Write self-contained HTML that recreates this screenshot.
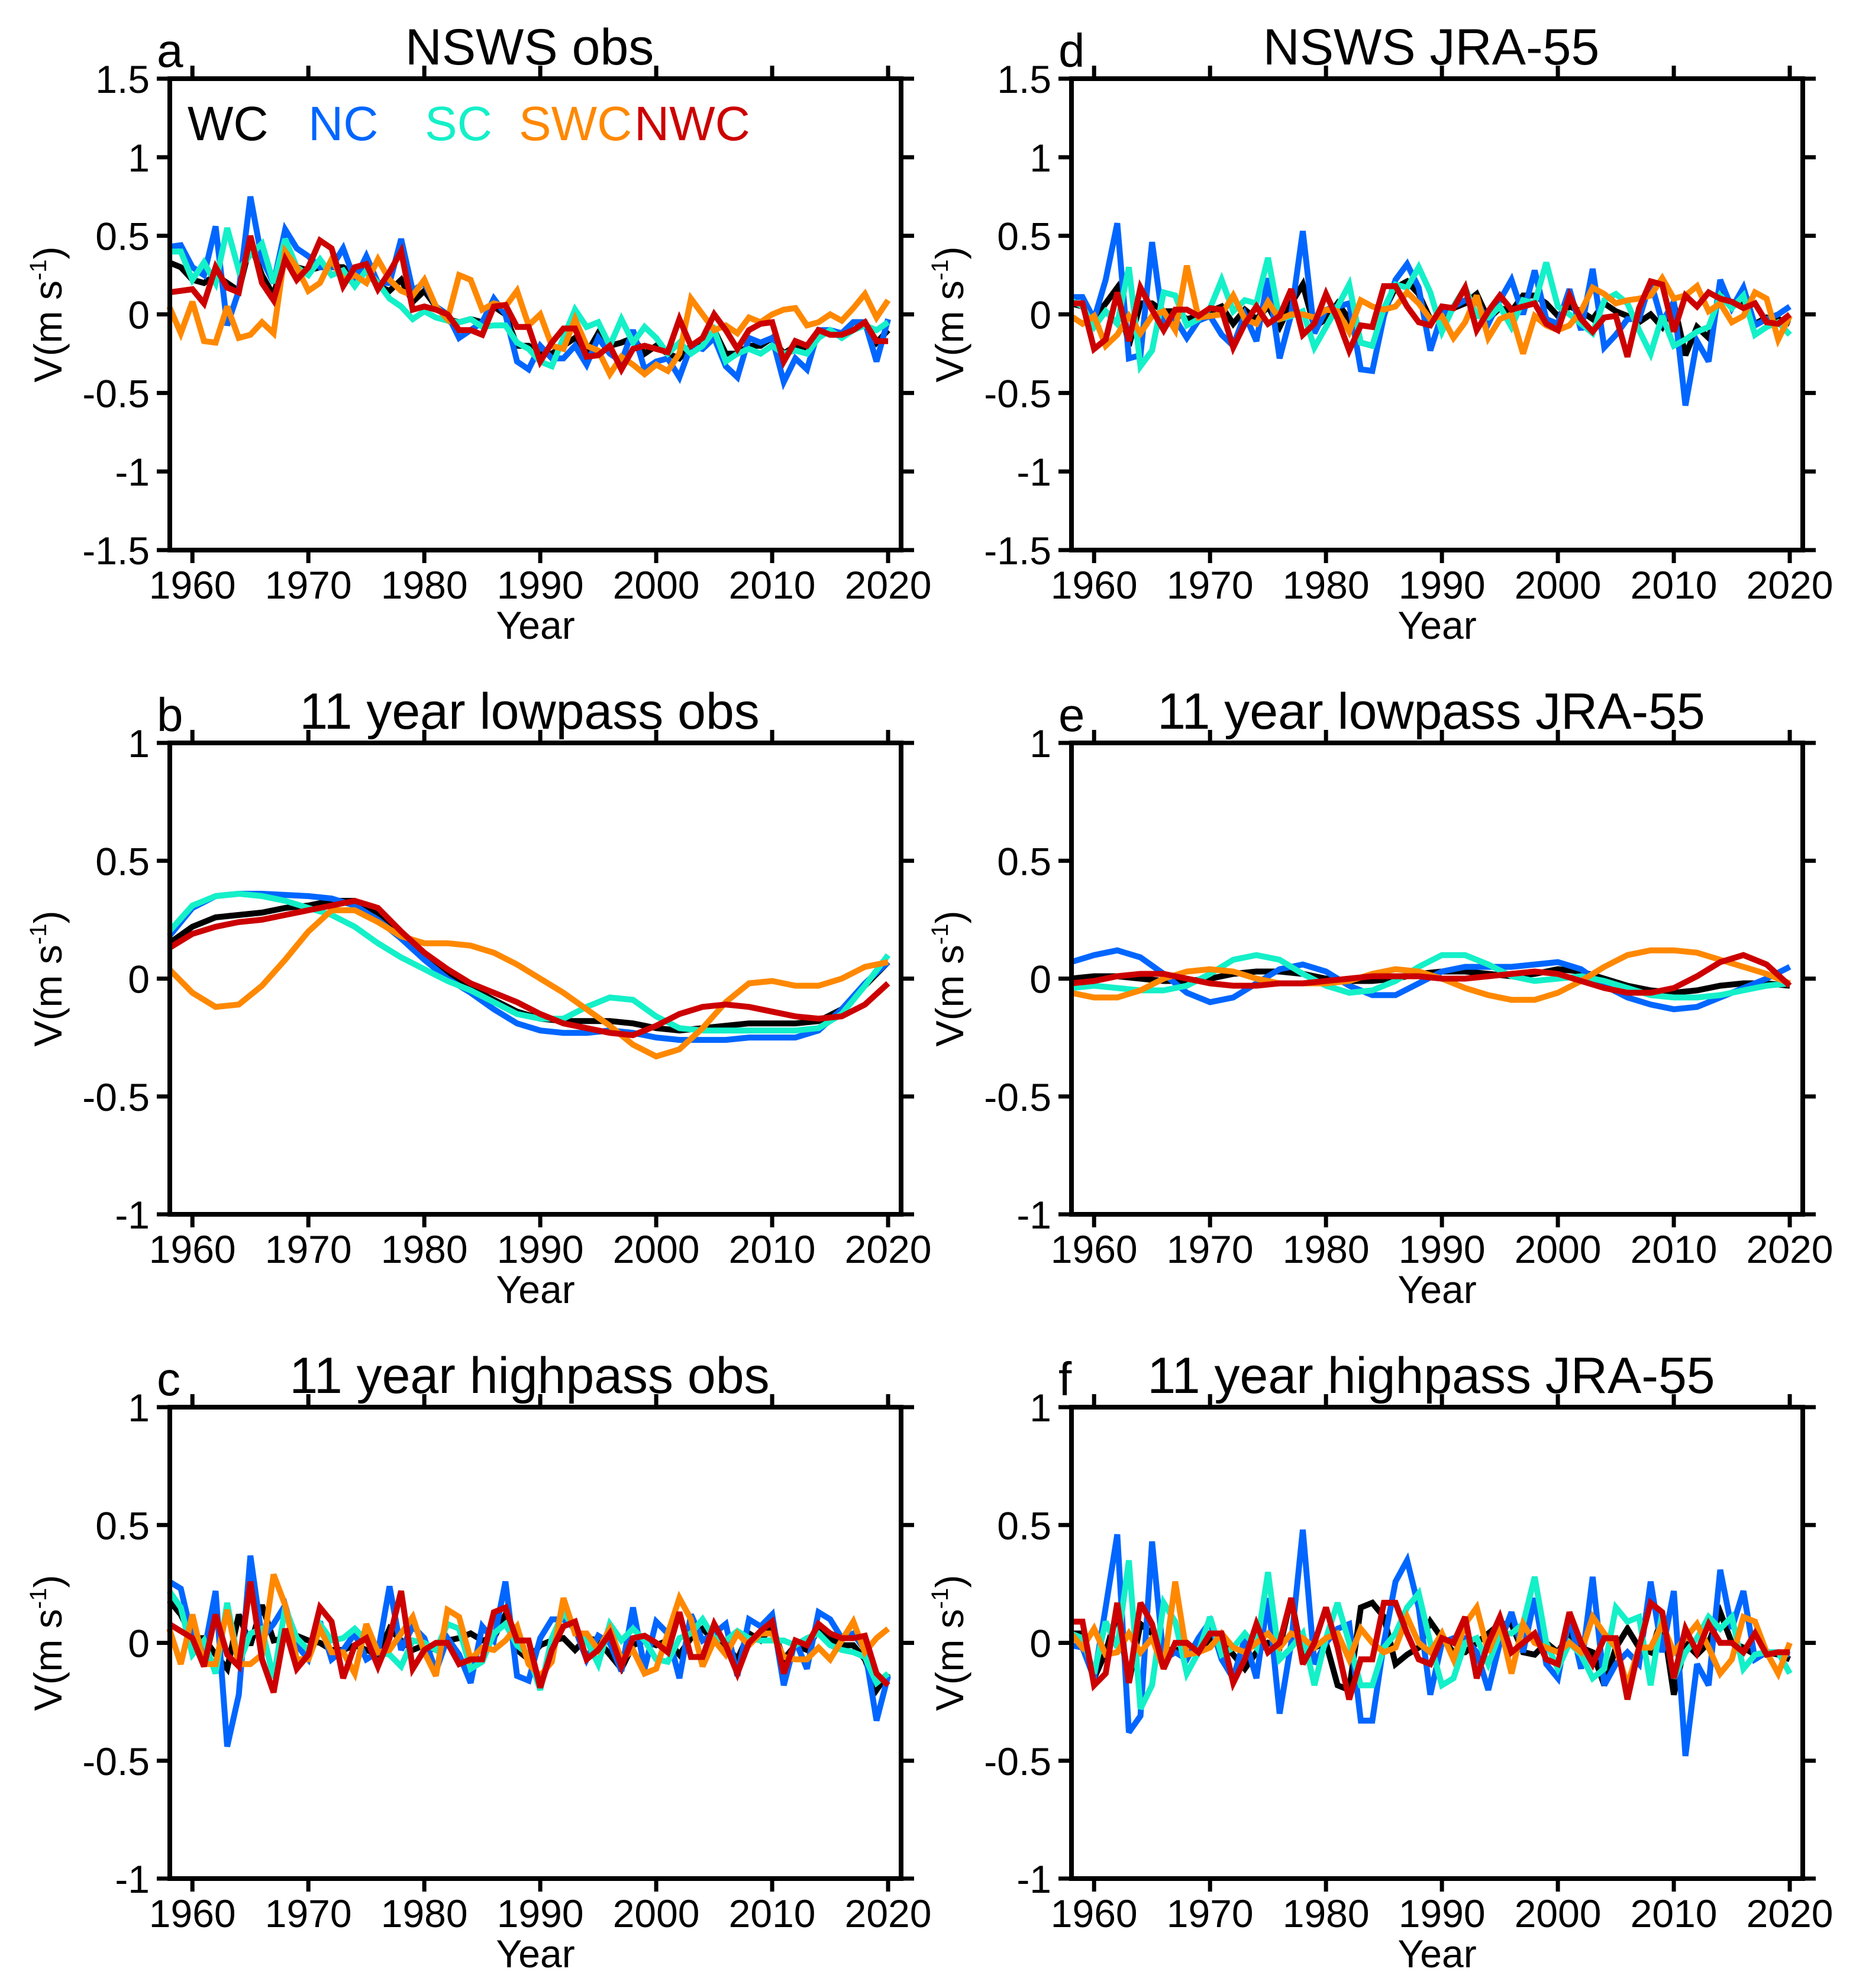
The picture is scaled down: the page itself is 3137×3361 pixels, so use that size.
<!DOCTYPE html>
<html><head><meta charset="utf-8"><title>NSWS wind speed anomaly time series</title>
<style>html,body{margin:0;padding:0;background:#fff}svg{display:block}text{font-family:"Liberation Sans",Arial,sans-serif;fill:#000}</style>
</head><body>
<svg id="chart" width="3137" height="3361" viewBox="0 0 3137 3361" xmlns="http://www.w3.org/2000/svg"></svg>
<script>
const years = [];
for (let y = 1958; y <= 2020; y++) years.push(y);
const yearsLow = [];
for (let y = 1958; y <= 2020; y += 2) yearsLow.push(y);

// Panel a: NSWS obs
const aWC = [0.33,0.3,0.22,0.2,0.25,0.2,0.15,0.45,0.25,0.12,0.4,0.3,0.28,0.3,0.3,0.3,0.25,0.28,0.18,0.15,0.22,0.08,0.15,0.05,-0.03,-0.05,-0.03,-0.05,0.05,0.0,-0.2,-0.2,-0.25,-0.25,-0.2,-0.15,-0.25,-0.12,-0.2,-0.18,-0.15,-0.25,-0.2,-0.25,-0.28,-0.2,-0.2,-0.1,-0.25,-0.25,-0.2,-0.2,-0.15,-0.25,-0.2,-0.22,-0.1,-0.12,-0.12,-0.05,-0.05,-0.18,-0.1];
const aNC = [0.43,0.44,0.3,0.25,0.56,-0.07,0.15,0.75,0.35,0.2,0.54,0.42,0.37,0.3,0.3,0.42,0.22,0.37,0.2,0.2,0.48,0.15,0.2,0.05,0.0,-0.15,-0.1,-0.05,0.1,0.0,-0.3,-0.35,-0.2,-0.28,-0.28,-0.2,-0.32,-0.15,-0.25,-0.3,-0.1,-0.35,-0.3,-0.28,-0.4,-0.2,-0.22,-0.15,-0.33,-0.4,-0.15,-0.18,-0.15,-0.43,-0.28,-0.35,-0.1,-0.1,-0.12,-0.05,-0.05,-0.3,-0.03];
const aSC = [0.4,0.4,0.22,0.33,0.2,0.55,0.28,0.38,0.45,0.2,0.48,0.3,0.25,0.35,0.25,0.28,0.18,0.28,0.2,0.1,0.05,-0.03,0.02,-0.02,-0.04,-0.05,-0.03,-0.08,-0.07,-0.07,-0.18,-0.22,-0.3,-0.33,-0.15,0.03,-0.08,-0.05,-0.2,-0.03,-0.18,-0.08,-0.15,-0.25,-0.18,-0.25,-0.2,-0.1,-0.3,-0.25,-0.22,-0.25,-0.2,-0.25,-0.23,-0.25,-0.15,-0.1,-0.15,-0.1,-0.07,-0.1,-0.05];
const aSWC = [0.05,-0.12,0.08,-0.17,-0.18,0.05,-0.15,-0.13,-0.05,-0.12,0.4,0.3,0.15,0.2,0.35,0.22,0.25,0.2,0.35,0.22,0.15,0.12,0.22,0.05,-0.03,0.25,0.22,0.03,0.07,0.05,0.15,-0.07,0.0,-0.2,-0.22,-0.03,-0.2,-0.23,-0.38,-0.27,-0.32,-0.38,-0.32,-0.36,-0.25,0.1,0.0,-0.1,-0.07,-0.12,-0.02,-0.05,0.0,0.03,0.04,-0.07,-0.05,0.0,-0.04,0.04,0.13,-0.02,0.09];
const aNWC = [0.14,0.15,0.16,0.07,0.3,0.17,0.14,0.5,0.2,0.09,0.35,0.22,0.3,0.47,0.42,0.18,0.3,0.32,0.16,0.27,0.4,0.03,0.05,0.03,0.0,-0.1,-0.1,-0.13,0.05,0.06,-0.08,-0.08,-0.3,-0.18,-0.09,-0.09,-0.27,-0.26,-0.2,-0.35,-0.22,-0.2,-0.22,-0.24,-0.03,-0.2,-0.15,0.0,-0.1,-0.22,-0.1,-0.06,-0.05,-0.3,-0.17,-0.2,-0.1,-0.13,-0.13,-0.1,-0.05,-0.17,-0.17];

// Panel d: NSWS JRA-55
const dWC = [0.07,0.05,-0.03,0.07,0.17,-0.2,0.07,0.07,0.02,0.02,-0.03,-0.01,0.02,0.05,-0.06,0.03,-0.03,0.05,-0.08,0.07,0.19,-0.08,-0.03,0.07,-0.03,-0.18,-0.2,0.02,0.17,0.21,0.13,-0.03,-0.03,0.04,0.07,0.13,-0.03,0.04,0.02,0.12,0.12,0.07,-0.01,0.05,0.02,-0.03,0.07,0.02,-0.01,-0.05,0.0,-0.08,0.07,-0.26,-0.08,-0.15,0.14,0.07,0.07,-0.06,-0.02,-0.03,-0.06];
const dNC = [0.11,0.11,-0.03,0.22,0.58,-0.28,-0.26,0.46,-0.08,-0.03,-0.15,-0.04,-0.01,-0.13,-0.2,0.0,-0.17,0.23,-0.28,0.0,0.53,-0.12,0.03,0.05,0.07,-0.35,-0.36,-0.01,0.22,0.32,0.17,-0.23,0.0,0.05,0.09,0.09,-0.06,0.09,0.22,0.0,0.28,-0.03,-0.06,0.16,-0.1,0.29,-0.21,-0.13,-0.03,-0.03,0.21,-0.05,0.08,-0.58,-0.17,-0.3,0.22,0.04,0.17,-0.07,-0.03,0.0,0.05];
const dSC = [0.09,0.05,-0.08,0.02,-0.06,0.3,-0.33,-0.23,0.14,0.12,-0.07,-0.03,0.04,0.22,0.02,0.09,0.07,0.36,-0.03,-0.01,0.02,-0.21,-0.08,0.05,0.19,-0.18,-0.2,0.04,0.19,0.17,0.3,0.14,-0.11,0.05,0.17,-0.01,-0.02,0.05,-0.08,0.09,0.07,0.33,0.05,0.0,-0.06,-0.12,0.09,0.13,0.07,-0.1,-0.25,-0.01,-0.2,-0.16,-0.11,-0.08,0.12,0.04,0.12,-0.13,-0.08,-0.05,-0.13];
const dSWC = [-0.01,-0.06,-0.01,-0.2,-0.13,-0.01,-0.12,-0.01,0.02,-0.1,0.31,-0.02,-0.01,0.0,0.12,-0.03,-0.06,0.08,-0.03,0.0,0.0,-0.02,0.03,0.02,-0.11,0.09,0.05,0.03,0.05,0.14,0.07,-0.03,-0.01,-0.15,-0.05,0.12,-0.15,-0.03,0.0,-0.25,-0.01,-0.07,-0.1,-0.07,0.02,0.17,0.13,0.07,0.09,0.1,0.12,0.23,0.1,0.12,0.18,0.02,0.07,-0.05,-0.01,0.14,0.1,-0.16,-0.01];
const dNWC = [0.07,0.07,-0.22,-0.16,0.14,-0.17,0.17,0.03,-0.1,0.03,0.03,-0.01,0.04,0.03,-0.21,-0.06,0.05,-0.06,-0.01,0.16,-0.13,-0.06,0.13,-0.03,-0.23,-0.07,-0.08,0.18,0.18,0.05,-0.05,-0.07,0.05,0.04,0.17,-0.1,0.02,0.12,0.03,0.05,0.07,-0.06,-0.1,0.12,-0.03,-0.11,-0.02,-0.01,-0.27,0.04,0.21,0.19,-0.11,0.12,0.05,0.14,0.1,0.08,0.04,0.07,-0.05,-0.06,0.0];

// Panel b: 11 year lowpass obs (every 2 years)
const bWC = [0.15,0.22,0.26,0.27,0.28,0.3,0.31,0.33,0.33,0.28,0.18,0.09,0.02,-0.04,-0.09,-0.14,-0.17,-0.18,-0.18,-0.18,-0.19,-0.21,-0.22,-0.21,-0.2,-0.19,-0.19,-0.19,-0.18,-0.13,-0.03,0.07];
const bNC = [0.18,0.3,0.35,0.36,0.36,0.355,0.35,0.34,0.31,0.25,0.17,0.08,0.0,-0.06,-0.13,-0.19,-0.22,-0.23,-0.23,-0.22,-0.23,-0.25,-0.26,-0.26,-0.26,-0.25,-0.25,-0.25,-0.22,-0.13,-0.02,0.07];
const bSC = [0.2,0.31,0.35,0.36,0.35,0.33,0.3,0.27,0.22,0.15,0.09,0.04,-0.01,-0.05,-0.1,-0.15,-0.17,-0.17,-0.12,-0.08,-0.09,-0.16,-0.21,-0.22,-0.22,-0.22,-0.22,-0.22,-0.21,-0.15,-0.03,0.1];
const bSWC = [0.04,-0.06,-0.12,-0.11,-0.03,0.08,0.2,0.29,0.29,0.24,0.18,0.15,0.15,0.14,0.11,0.06,0.0,-0.06,-0.13,-0.2,-0.28,-0.33,-0.3,-0.21,-0.1,-0.02,-0.01,-0.03,-0.03,0.0,0.05,0.07];
const bNWC = [0.13,0.19,0.22,0.24,0.25,0.27,0.29,0.31,0.33,0.3,0.2,0.11,0.04,-0.02,-0.06,-0.1,-0.15,-0.19,-0.21,-0.23,-0.24,-0.2,-0.15,-0.12,-0.11,-0.12,-0.14,-0.16,-0.17,-0.16,-0.11,-0.02];

// Panel e: 11 year lowpass JRA-55 (every 2 years)
const eWC = [0.0,0.01,0.01,0.0,-0.01,-0.01,0.0,0.02,0.03,0.03,0.02,0.0,-0.01,-0.01,0.0,0.02,0.03,0.03,0.02,0.01,0.02,0.04,0.03,0.0,-0.03,-0.05,-0.06,-0.05,-0.03,-0.02,-0.02,-0.03];
const eNC = [0.07,0.1,0.12,0.09,0.02,-0.06,-0.1,-0.08,-0.02,0.04,0.06,0.03,-0.03,-0.07,-0.07,-0.02,0.03,0.05,0.05,0.05,0.06,0.07,0.04,-0.03,-0.08,-0.11,-0.13,-0.12,-0.08,-0.04,0.0,0.05];
const eSC = [-0.04,-0.03,-0.04,-0.05,-0.05,-0.03,0.02,0.08,0.1,0.08,0.02,-0.03,-0.06,-0.05,-0.01,0.05,0.1,0.1,0.06,0.01,-0.01,0.0,0.01,-0.01,-0.04,-0.07,-0.08,-0.08,-0.07,-0.05,-0.03,-0.02];
const eSWC = [-0.06,-0.08,-0.08,-0.05,0.0,0.03,0.04,0.03,0.0,-0.02,-0.02,-0.02,-0.01,0.02,0.04,0.03,0.0,-0.04,-0.07,-0.09,-0.09,-0.06,-0.01,0.05,0.1,0.12,0.12,0.11,0.08,0.05,0.02,-0.02];
const eNWC = [-0.02,-0.01,0.01,0.02,0.02,0.0,-0.02,-0.03,-0.03,-0.02,-0.02,-0.01,0.0,0.01,0.01,0.01,0.0,0.0,0.01,0.02,0.03,0.02,-0.01,-0.04,-0.06,-0.06,-0.04,0.01,0.07,0.1,0.06,-0.03];

// Panel c: 11 year highpass obs
const cWC = [0.18,0.12,0.02,0.02,-0.05,-0.11,0.12,-0.01,0.16,0.01,0.02,0.03,0.01,0.0,-0.03,-0.03,-0.01,-0.03,-0.05,0.06,0.01,-0.03,-0.01,-0.03,0.01,0.02,0.04,0.01,0.02,0.12,-0.03,-0.07,-0.01,0.01,0.02,-0.03,0.02,0.01,-0.05,-0.11,-0.01,0.01,-0.01,0.01,-0.05,0.02,0.06,0.01,-0.01,-0.07,0.04,0.01,0.07,-0.07,-0.01,-0.03,0.06,0.02,-0.01,-0.01,-0.07,-0.2,-0.13];
const cNC = [0.26,0.23,0.02,-0.04,0.22,-0.44,-0.22,0.37,0.02,0.08,0.16,-0.01,-0.07,0.09,-0.07,-0.03,0.04,-0.07,-0.04,0.24,-0.03,0.07,0.02,-0.12,0.02,-0.05,-0.17,0.07,0.01,0.26,-0.14,-0.16,0.02,0.1,0.1,0.06,-0.07,0.03,0.0,-0.12,0.15,-0.11,0.09,0.04,-0.15,0.12,0.01,0.04,0.08,-0.14,0.1,0.07,0.12,-0.18,0.01,-0.11,0.13,0.1,0.02,0.04,-0.03,-0.33,-0.14];
const cSC = [0.22,0.15,-0.05,0.01,-0.13,0.17,-0.09,0.04,0.06,-0.15,0.15,0.02,-0.03,0.08,0.01,0.02,0.06,0.01,-0.04,-0.05,-0.1,0.01,0.0,-0.03,0.08,0.06,-0.11,-0.08,0.04,0.08,-0.01,-0.05,-0.2,0.02,0.13,0.06,0.01,-0.09,0.08,0.01,0.06,0.01,-0.07,-0.08,0.02,0.04,0.1,0.02,0.01,0.05,0.02,0.01,0.01,0.01,-0.01,0.02,0.04,-0.01,-0.03,-0.04,-0.06,-0.17,-0.13];
const cSWC = [0.06,-0.09,0.12,-0.09,-0.09,0.14,-0.09,-0.09,-0.05,0.29,0.16,-0.07,-0.07,0.06,-0.04,-0.04,-0.13,0.08,-0.04,-0.03,0.04,0.11,-0.04,-0.14,0.14,0.11,-0.07,-0.02,-0.03,0.01,0.07,-0.09,-0.14,-0.08,0.19,0.04,0.04,-0.03,0.06,-0.07,-0.03,-0.13,-0.11,0.04,0.19,0.1,-0.1,0.01,-0.05,0.04,-0.01,0.04,0.04,-0.06,-0.07,-0.07,-0.02,-0.07,0.01,0.09,-0.04,0.02,0.06];
const cNWC = [0.08,0.05,0.02,-0.1,0.12,-0.05,-0.1,0.26,-0.07,-0.21,0.06,-0.11,-0.05,0.15,0.09,-0.15,-0.01,0.02,-0.1,0.02,0.22,-0.11,-0.03,0.0,0.0,-0.09,-0.07,-0.07,0.13,0.15,0.01,0.01,-0.19,-0.03,0.07,0.09,-0.07,-0.03,0.04,-0.1,0.02,0.03,0.0,-0.04,0.13,-0.06,-0.06,0.08,-0.01,-0.13,0.0,0.05,0.09,-0.13,0.01,-0.01,0.08,0.04,0.02,0.02,0.03,-0.13,-0.18];

// Panel f: 11 year highpass JRA-55
const fWC = [0.04,0.04,-0.15,-0.04,0.13,-0.17,0.08,0.04,-0.02,-0.04,0.0,-0.04,0.02,0.0,-0.05,-0.11,-0.04,0.0,-0.02,0.19,-0.07,-0.02,0.0,-0.18,-0.2,0.15,0.17,0.11,-0.09,-0.05,-0.02,0.09,0.02,-0.04,-0.04,0.0,0.04,0.08,0.08,-0.04,-0.05,0.0,-0.04,0.04,-0.02,-0.04,-0.18,-0.02,0.06,-0.02,-0.04,0.11,-0.22,0.0,-0.05,0.0,0.13,0.0,-0.02,-0.05,-0.04,-0.05,-0.07];
const fNC = [-0.01,-0.02,-0.15,0.15,0.46,-0.38,-0.31,0.43,-0.07,-0.04,-0.07,0.02,0.09,-0.07,-0.15,0.02,-0.15,0.19,-0.3,0.0,0.48,-0.09,0.0,0.06,0.08,-0.33,-0.33,0.0,0.26,0.35,0.15,-0.22,0.0,0.02,0.02,-0.04,-0.2,0.0,0.13,-0.04,0.19,-0.09,-0.15,0.11,-0.11,0.28,-0.18,-0.09,-0.04,-0.09,0.26,-0.04,0.22,-0.48,-0.09,-0.18,0.31,0.06,0.22,-0.07,-0.04,-0.04,-0.05];
const fSC = [0.04,0.02,-0.13,0.09,-0.02,0.35,-0.28,-0.18,0.17,0.09,-0.13,-0.04,0.11,-0.05,-0.02,0.04,-0.02,0.3,-0.07,-0.02,0.04,-0.18,0.02,0.17,0.0,-0.18,-0.18,-0.02,0.04,0.15,0.21,0.0,-0.18,-0.15,0.0,0.02,-0.09,0.04,0.04,0.08,0.28,0.0,-0.11,0.0,-0.05,-0.15,-0.11,0.15,0.09,0.11,-0.18,0.13,-0.15,-0.04,0.02,0.11,0.06,0.11,-0.11,-0.05,-0.04,-0.04,-0.13];
const fSWC = [0.04,-0.02,0.06,-0.05,-0.04,0.04,-0.04,0.02,-0.11,0.26,-0.05,-0.04,-0.02,0.04,-0.02,-0.04,0.0,0.04,-0.02,0.04,0.02,-0.02,0.02,0.04,-0.07,0.06,0.0,-0.04,-0.02,0.11,0.0,-0.04,0.04,-0.07,0.08,0.15,-0.04,0.08,-0.13,0.08,0.0,-0.02,-0.04,0.0,-0.04,0.11,0.04,-0.02,-0.18,-0.02,-0.02,0.08,-0.04,0.02,0.08,-0.02,-0.13,-0.07,0.11,0.09,-0.04,-0.13,0.0];
const fNWC = [0.09,0.09,-0.18,-0.13,0.17,-0.17,0.17,0.08,-0.11,0.0,0.0,-0.04,0.04,0.04,-0.17,-0.07,0.08,-0.04,0.0,0.19,-0.09,0.0,0.15,-0.02,-0.24,-0.07,-0.07,0.17,0.17,0.04,-0.07,-0.09,0.02,0.0,0.11,-0.15,0.0,0.11,-0.04,0.0,0.04,-0.07,-0.09,0.13,0.0,-0.09,0.02,0.02,-0.24,-0.02,0.17,0.13,-0.15,0.06,-0.04,0.08,0.0,0.0,-0.04,0.04,-0.05,-0.04,-0.04];

const ticksA = [1.5,1,0.5,0,-0.5,-1,-1.5];
const ticksB = [1,0.5,0,-0.5,-1];
const xTicks = [1960,1970,1980,1990,2000,2010,2020];
const seriesNames = ["WC","NC","SC","SWC","NWC"];
const colors = {WC:"#000000",NC:"#0066ff",SC:"#14f0c8",SWC:"#ff8800",NWC:"#cc0000"};

const NS = "http://www.w3.org/2000/svg";
const svg = document.getElementById("chart");
function mk(tag, attrs, parent) {
  const e = document.createElementNS(NS, tag);
  for (const k in attrs) e.setAttribute(k, attrs[k]);
  (parent || svg).appendChild(e);
  return e;
}
const W = 1236, H = 797, X0 = 1958.05, X1 = 2021.12;

function panel(id, letter, title, left, top, yMin, yMax, yTicks, xs, data) {
  const g = mk("g", {});
  
  
  const xS = v => left + (v - X0) / (X1 - X0) * W;
  const yS = v => top + (yMax - v) / (yMax - yMin) * H;
  seriesNames.forEach((n, k) => {
    const pts = data[k].map((v, i) => xS(xs[i]).toFixed(1) + "," + yS(v).toFixed(1)).join(" ");
    const pl = mk("polyline", {points: pts, fill: "none", stroke: colors[n], "stroke-width": 10, "stroke-linejoin": "miter", "stroke-miterlimit": 3}, g);
    
    
  });
  const fr = mk("rect", {x: left, y: top, width: W, height: H, fill: "none", stroke: "#000", "stroke-width": 8}, g);
  
  
  xTicks.forEach(t => {
    const x = xS(t);
    mk("line", {x1: x, x2: x, y1: top, y2: top - 22, stroke: "#000", "stroke-width": 7}, g);
    mk("line", {x1: x, x2: x, y1: top + H, y2: top + H + 22, stroke: "#000", "stroke-width": 7}, g);
    const tx = mk("text", {x: x, y: top + H + 82, "font-size": 66, "text-anchor": "middle"}, g);
    tx.textContent = t;
    
    
  });
  yTicks.forEach(t => {
    const y = yS(t);
    mk("line", {x1: left, x2: left - 22, y1: y, y2: y, stroke: "#000", "stroke-width": 7}, g);
    mk("line", {x1: left + W, x2: left + W + 22, y1: y, y2: y, stroke: "#000", "stroke-width": 7}, g);
    const ty = mk("text", {x: left - 34, y: y + 24, "font-size": 66, "text-anchor": "end"}, g);
    ty.textContent = t < 0 ? "-" + Math.abs(t) : String(t);
    
    
  });
  const xl = mk("text", {x: left + W / 2, y: top + H + 150, "font-size": 66, "text-anchor": "middle"}, g);
  xl.textContent = "Year";
  
  
  const yl = mk("text", {transform: "translate(" + (left - 183) + "," + (top + H / 2) + ") rotate(-90)", "font-size": 66, "text-anchor": "middle"}, g);
  
  
  yl.appendChild(document.createTextNode("V(m s"));
  const sup = mk("tspan", {"font-size": 40, dy: -26}, yl);
  sup.textContent = "-1";
  const cl = mk("tspan", {dy: 26}, yl);
  cl.textContent = ")";
  const lt = mk("text", {x: left - 22, y: top - 20, "font-size": 80}, g);
  lt.textContent = letter;
  
  
  const tt = mk("text", {x: left + W / 2 - 10, y: top - 24, "font-size": 86, "text-anchor": "middle"}, g);
  tt.textContent = title;
  
  
  return g;
}

panel("a", "a", "NSWS obs", 287, 133, -1.5, 1.5, ticksA, years, [aWC,aNC,aSC,aSWC,aNWC]);
panel("d", "d", "NSWS JRA-55", 1811, 133, -1.5, 1.5, ticksA, years, [dWC,dNC,dSC,dSWC,dNWC]);
panel("b", "b", "11 year lowpass obs", 287, 1256, -1, 1, ticksB, yearsLow, [bWC,bNC,bSC,bSWC,bNWC]);
panel("e", "e", "11 year lowpass JRA-55", 1811, 1256, -1, 1, ticksB, yearsLow, [eWC,eNC,eSC,eSWC,eNWC]);
panel("c", "c", "11 year highpass obs", 287, 2379, -1, 1, ticksB, years, [cWC,cNC,cSC,cSWC,cNWC]);
panel("f", "f", "11 year highpass JRA-55", 1811, 2379, -1, 1, ticksB, years, [fWC,fNC,fSC,fSWC,fNWC]);

const legendX = [317, 521, 718, 877, 1072];
seriesNames.forEach((n, k) => {
  const t = mk("text", {x: legendX[k], y: 237, "font-size": 82, fill: colors[n]});
  t.style.fill = colors[n];
  t.textContent = n;
  
  
});
</script>
</body></html>
